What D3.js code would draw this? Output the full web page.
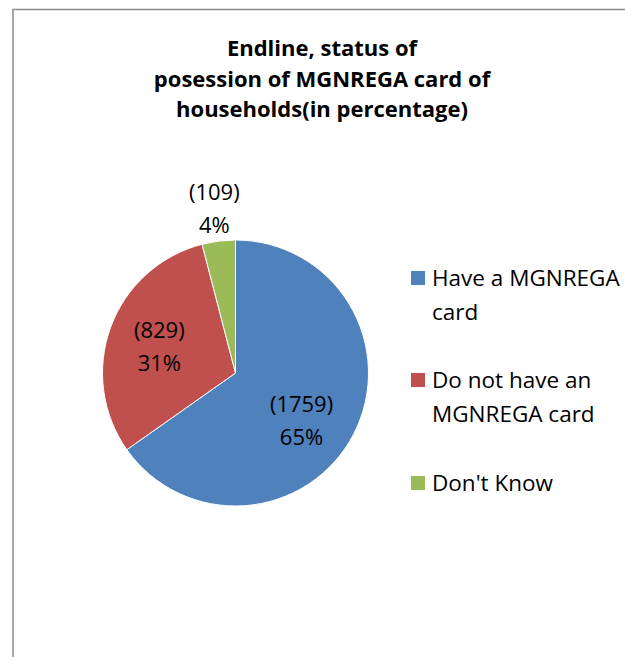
<!DOCTYPE html>
<html>
<head>
<meta charset="utf-8">
<script src="https://cdn.jsdelivr.net/npm/d3@7"></script>
<style>
  body { margin: 0; background: #fff; }
  svg { display: block; font-family: "Open Sans", "Liberation Sans", sans-serif; }
</style>
</head>
<body>
<div id="chart"></div>
<script>
// data
var categories = ["Have a MGNREGA card", "Do not have an MGNREGA card", "Don't Know"];
var counts = [1759, 829, 109];
var percents = ["65%", "31%", "4%"];
var colors = ["#4F81BD", "#C0504D", "#9BBB59"];
var legendLines = [["Have a MGNREGA", "card"], ["Do not have an", "MGNREGA card"], ["Don't Know"]];
var titleLines = ["Endline, status of", "posession of MGNREGA card of", "households(in percentage)"];

var w = 625, h = 657;
var cx = 235.5, cy = 373, r = 133;

var svg = d3.select('#chart').append('svg')
    .attr('width', w).attr('height', h);

// chart frame
svg.append('rect')
    .attr('x', 13).attr('y', 9.5)
    .attr('width', 700).attr('height', 700)
    .attr('fill', '#fff')
    .attr('stroke', '#8c8c8c')
    .attr('stroke-width', 1.5);

// title
svg.append('text')
    .attr('text-anchor', 'middle')
    .style('font-weight', 'bold')
    .style('font-size', '22px')
    .style('fill', '#000')
    .selectAll('tspan')
    .data(titleLines)
    .enter().append('tspan')
    .attr('x', 322)
    .attr('y', (d, i) => 56 + i * 30.5)
    .text(d => d);

var data = categories.map((c, i) => ({ name: c, count: counts[i], pct: percents[i], color: colors[i] }));

var pie = d3.pie()
    .value(d => d.count)
    .sort(null);

var arc = d3.arc().innerRadius(0).outerRadius(r);
var inLabel = d3.arc().innerRadius(r * 0.61).outerRadius(r * 0.61);
var outLabel = d3.arc().innerRadius(r * 1.26).outerRadius(r * 1.26);

var g = svg.append('g')
    .attr('transform', `translate(${cx}, ${cy})`);

var arcs = pie(data);

g.selectAll('path')
    .data(arcs)
    .enter()
    .append('path')
    .attr('d', arc)
    .attr('fill', d => d.data.color)
    .attr('stroke', '#fff')
    .attr('stroke-width', 1);

var labels = g.selectAll('.lbl')
    .data(arcs)
    .enter()
    .append('text')
    .attr('class', 'lbl')
    .attr('text-anchor', 'middle')
    .style('font-size', '22px')
    .style('fill', '#000')
    .attr('transform', d => {
        var small = (d.endAngle - d.startAngle) < 0.5;
        var p = small ? outLabel.centroid(d) : inLabel.centroid(d);
        // Excel nudges the large slice's label a little lower-left
        if (d.index === 0) p = [p[0] - 6, p[1] + 9];
        return 'translate(' + p + ')';
    });

labels.append('tspan')
    .attr('x', 0).attr('y', -7)
    .text(d => '(' + d.data.count + ')');
labels.append('tspan')
    .attr('x', 0).attr('y', 26)
    .text(d => d.data.pct);

// legend
var legend = svg.selectAll('.legend')
    .data(data)
    .enter()
    .append('g')
    .attr('class', 'legend')
    .attr('transform', (d, i) => 'translate(411,' + [271, 373, 476][i] + ')');

legend.append('rect')
    .attr('width', 14)
    .attr('height', 14)
    .attr('fill', d => d.color);

legend.append('text')
    .style('font-size', '22.5px')
    .style('fill', '#000')
    .selectAll('tspan')
    .data((d, i) => legendLines[i])
    .enter().append('tspan')
    .attr('x', 21)
    .attr('y', (d, j) => 15 + j * 33.5)
    .text(d => d);
</script>
</body>
</html>
